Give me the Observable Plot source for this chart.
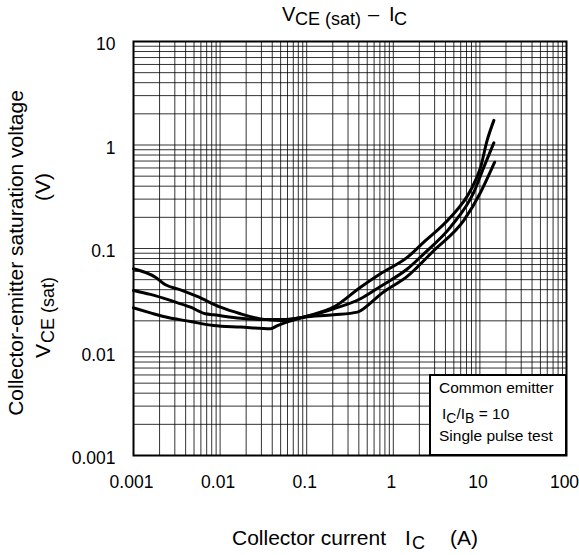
<!DOCTYPE html>
<html><head><meta charset="utf-8">
<script src="https://cdn.jsdelivr.net/npm/d3@7"></script>
<script src="https://cdn.jsdelivr.net/npm/@observablehq/plot@0.6"></script>
<style>
body{margin:0;background:#fff;}
#chart{position:relative;width:579px;height:555px;}
svg{font-family:"Liberation Sans",Arial,sans-serif;}
</style></head><body><div id="chart"></div>
<script>
// Tick values and labels
const xTicks = [0.001, 0.01, 0.1, 1, 10, 100];
const xTickLabels = ["0.001", "0.01", "0.1", "1", "10", "100"];
const yTicks = [0.001, 0.01, 0.1, 1, 10];
const yTickLabels = ["0.001", "0.01", "0.1", "1", "10"];
const gridMultipliers = [1, 2, 3, 4, 5, 6, 7, 8, 9];

// Curve 1 (highest at low current, lowest at high current)
const ic1 = [0.001, 0.00179, 0.00234, 0.00349, 0.00544, 0.0101, 0.0172, 0.0293, 0.0498, 0.0918, 0.204, 0.386, 0.591, 0.71, 1.46, 2.94, 6.52, 10.2, 14.8];
const vce1 = [0.0637, 0.0528, 0.0446, 0.0399, 0.0344, 0.0271, 0.0234, 0.0209, 0.0201, 0.0217, 0.0229, 0.0243, 0.0315, 0.036, 0.054, 0.0957, 0.187, 0.350, 0.682];
// Curve 2 (middle)
const ic2 = [0.001, 0.00157, 0.00267, 0.00455, 0.00678, 0.0084, 0.0172, 0.0317, 0.0498, 0.0918, 0.204, 0.418, 0.71, 1.46, 2.25, 4.57, 8.51, 11.1, 14.5];
const vce2 = [0.0393, 0.036, 0.0315, 0.0271, 0.0234, 0.0229, 0.0212, 0.0206, 0.0206, 0.0217, 0.0261, 0.0327, 0.043, 0.0637, 0.0889, 0.161, 0.350, 0.611, 1.05];
// Curve 3 (lowest at low current, highest at high current)
const ic3 = [0.001, 0.00157, 0.00222, 0.00455, 0.0084, 0.0172, 0.0382, 0.046, 0.0918, 0.204, 0.418, 0.71, 1.46, 2.25, 4.57, 7.78, 10.2, 12.1, 14.5];
const vce3 = [0.0267, 0.0239, 0.022, 0.0197, 0.018, 0.0174, 0.0168, 0.018, 0.0217, 0.0271, 0.0423, 0.057, 0.0824, 0.115, 0.20, 0.363, 0.611, 1.10, 1.73];

const series = [
  {name: "c1", ic: ic1, vce: vce1},
  {name: "c2", ic: ic2, vce: vce2},
  {name: "c3", ic: ic3, vce: vce3}
];
const data = series.flatMap(s => s.ic.map((d, i) => ({I: d, V: s.vce[i], s: s.name})));

const xGrid = xTicks.slice(0, -1).flatMap(d => gridMultipliers.map(m => +(d * m).toPrecision(3))).concat([xTicks[xTicks.length - 1]]);
const yGrid = yTicks.slice(0, -1).flatMap(d => gridMultipliers.map(m => +(d * m).toPrecision(3))).concat([yTicks[yTicks.length - 1]]);

const font = '"Liberation Sans", Arial, sans-serif';
const plot = Plot.plot({
  width: 579, height: 555,
  marginLeft: 133, marginRight: 13, marginTop: 41, marginBottom: 100,
  style: {fontFamily: font, fontSize: "18px", background: "#fff", color: "#000"},
  x: {type: "log", domain: [0.001, 100]},
  y: {type: "log", domain: [0.001, 10]},
  marks: [
    Plot.ruleX(xGrid, {stroke: "#000", strokeWidth: 1, strokeOpacity: 0.8}),
    Plot.ruleY(yGrid, {stroke: "#000", strokeWidth: 1, strokeOpacity: 0.8}),
    Plot.line(data, {x: "I", y: "V", z: "s", stroke: "#000", strokeWidth: 3, curve: "monotone-x"}),
    Plot.frame({stroke: "#000", strokeWidth: 2}),
    Plot.axisX(xTicks, {tickSize: 0, tickPadding: 20, fontSize: 17.5, dx: -2, label: null,
      tickFormat: d => xTickLabels[xTicks.indexOf(d)]}),
    Plot.axisY(yTicks, {tickSize: 0, tickPadding: 18, fontSize: 17.5, dy: 3, label: null,
      tickFormat: d => yTickLabels[yTicks.indexOf(d)]})
  ]
});
document.getElementById("chart").appendChild(plot);

const svg = d3.select(plot);
const xs = plot.scale("x"), ys = plot.scale("y");
const frameRight = xs.apply(100), frameBottom = ys.apply(0.001);

function txt(size) {
  return svg.append("text").attr("font-size", size).attr("fill", "#000")
    .attr("font-family", font).attr("text-anchor", "start");
}

// Title
const title = txt(20);
title.append("tspan").attr("x", 282).attr("y", 21).text("V");
title.append("tspan").attr("x", 295).attr("y", 25).attr("font-size", 18).text("CE (sat)");
title.append("tspan").attr("x", 368).attr("y", 21).text("–");
title.append("tspan").attr("x", 389).attr("y", 21).text("I");
title.append("tspan").attr("x", 394).attr("y", 25).attr("font-size", 18).text("C");

// X label
const xl = txt(21);
xl.append("tspan").attr("x", 232).attr("y", 545).text("Collector current");
xl.append("tspan").attr("x", 405).attr("y", 545).text("I");
xl.append("tspan").attr("x", 412).attr("y", 549).attr("font-size", 18).text("C");
xl.append("tspan").attr("x", 450).attr("y", 545).text("(A)");

// Y label
txt(21).attr("transform", "translate(23,253) rotate(-90)").attr("text-anchor", "middle")
  .text("Collector-emitter saturation voltage");
const yl = txt(21).attr("transform", "translate(50,0) rotate(-90)");
yl.append("tspan").attr("x", -358).attr("y", 0).text("V");
yl.append("tspan").attr("x", -343).attr("y", 4).attr("font-size", 18).text("CE (sat)");
yl.append("tspan").attr("x", -201).attr("y", 0).text("(V)");

// Condition box
const bw = 137, bh = 80;
svg.append("rect").attr("x", frameRight - bw + 1).attr("y", frameBottom - bh).attr("width", bw - 1).attr("height", bh)
  .attr("fill", "#fff").attr("stroke", "#000").attr("stroke-width", 2);
const bx = frameRight - bw + 10;
txt(15.5).attr("x", bx).attr("y", frameBottom - 62).text("Common emitter");
const l2 = txt(15.5);
l2.append("tspan").attr("x", bx + 3).attr("y", frameBottom - 36).text("I");
l2.append("tspan").attr("y", frameBottom - 32).attr("font-size", 14).text("C");
l2.append("tspan").attr("y", frameBottom - 36).text("/I");
l2.append("tspan").attr("y", frameBottom - 32).attr("font-size", 14).text("B");
l2.append("tspan").attr("y", frameBottom - 36).text(" = 10");
txt(15.5).attr("x", bx).attr("y", frameBottom - 14).text("Single pulse test");
</script>
</body></html>
